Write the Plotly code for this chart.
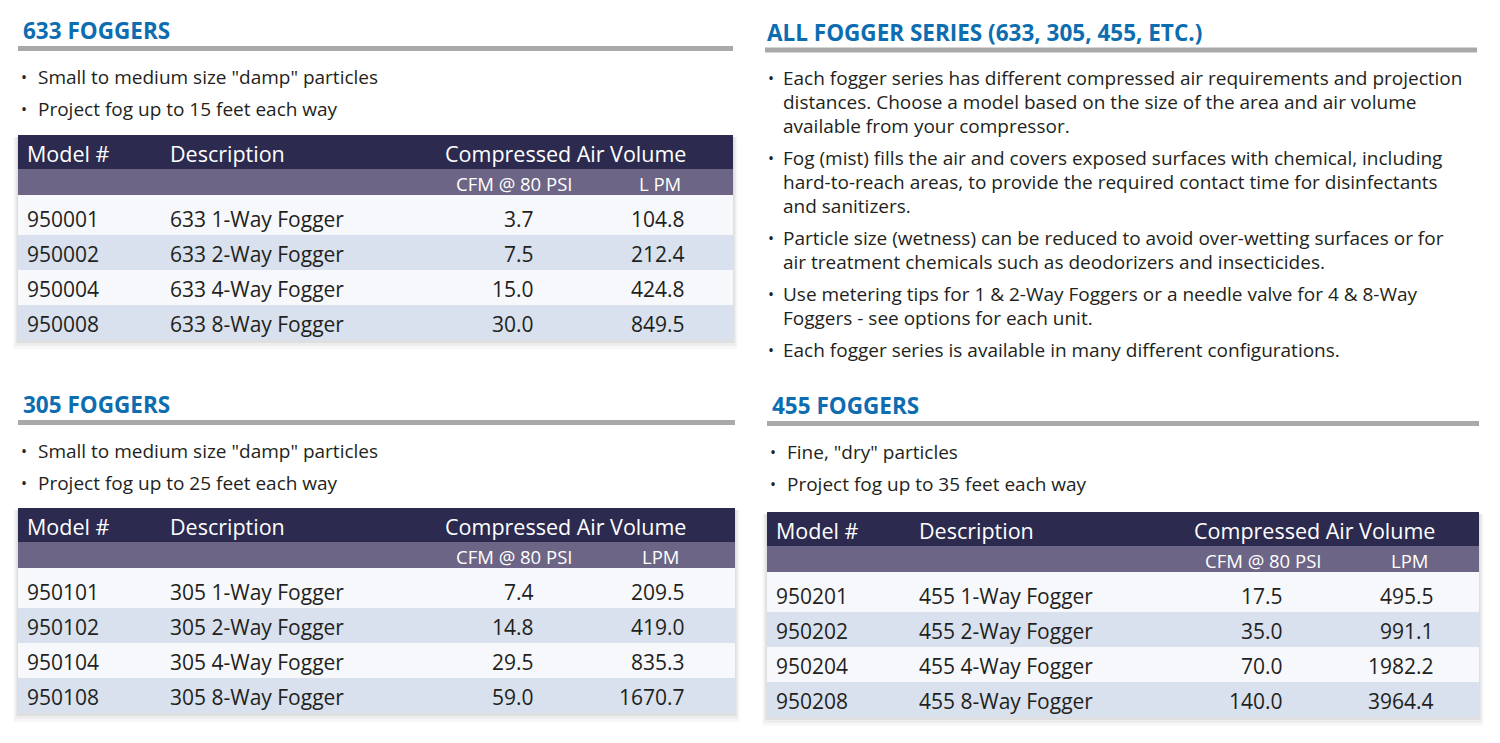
import plotly.graph_objects as go

# ---------------- data ----------------
titles = ["633 FOGGERS", "305 FOGGERS", "455 FOGGERS"]
bullets_633 = ['Small to medium size "damp" particles', "Project fog up to 15 feet each way"]
bullets_305 = ['Small to medium size "damp" particles', "Project fog up to 25 feet each way"]
bullets_455 = ['Fine, "dry" particles', "Project fog up to 35 feet each way"]

header_cols = ["Model #", "Description", "Compressed Air Volume"]
sub_cols_633 = ["CFM @ 80 PSI", "L PM"]
sub_cols = ["CFM @ 80 PSI", "LPM"]

models_633 = ["950001", "950002", "950004", "950008"]
desc_633 = ["633 1-Way Fogger", "633 2-Way Fogger", "633 4-Way Fogger", "633 8-Way Fogger"]
cfm_633 = [3.7, 7.5, 15.0, 30.0]
lpm_633 = [104.8, 212.4, 424.8, 849.5]

models_305 = ["950101", "950102", "950104", "950108"]
desc_305 = ["305 1-Way Fogger", "305 2-Way Fogger", "305 4-Way Fogger", "305 8-Way Fogger"]
cfm_305 = [7.4, 14.8, 29.5, 59.0]
lpm_305 = [209.5, 419.0, 835.3, 1670.7]

models_455 = ["950201", "950202", "950204", "950208"]
desc_455 = ["455 1-Way Fogger", "455 2-Way Fogger", "455 4-Way Fogger", "455 8-Way Fogger"]
cfm_455 = [17.5, 35.0, 70.0, 140.0]
lpm_455 = [495.5, 991.1, 1982.2, 3964.4]

all_title = "ALL FOGGER SERIES (633, 305, 455, ETC.)"
all_bullets = [
    ["Each fogger series has different compressed air requirements and projection",
     "distances. Choose a model based on the size of the area and air volume",
     "available from your compressor."],
    ["Fog (mist) fills the air and covers exposed surfaces with chemical, including",
     "hard-to-reach areas, to provide the required contact time for disinfectants",
     "and sanitizers."],
    ["Particle size (wetness) can be reduced to avoid over-wetting surfaces or for",
     "air treatment chemicals such as deodorizers and insecticides."],
    ["Use metering tips for 1 & 2-Way Foggers or a needle valve for 4 & 8-Way",
     "Foggers - see options for each unit."],
    ["Each fogger series is available in many different configurations."],
]

# ---------------- style ----------------
FONT = "Open Sans"
BLUE = "#0c6db0"
RULE = "#a9a9a9"
HEAD = "#2c2a4f"
SUB = "#6c6585"
ROW_A = "#f7f8fb"
ROW_B = "#d8e1ed"
TXT = "#231f20"

fig = go.Figure()
shapes = []
annots = []


def rect(x0, y0, x1, y1, color, opacity=1.0):
    shapes.append(dict(type="rect", xref="x", yref="y", x0=x0, y0=y0, x1=x1, y1=y1,
                       fillcolor=color, line=dict(width=0), opacity=opacity, layer="below"))


def text(x, y, s, size=18, color=TXT, anchor="left", bold=False):
    annots.append(dict(x=x, y=y, xref="x", yref="y", text=s, showarrow=False,
                       xanchor=anchor, yanchor="middle",
                       font=dict(family=FONT, size=size, color=color,
                                 weight="bold" if bold else "normal")))


def heading(x, y, s, rx0, rx1, ry):
    text(x, y, s, size=22.5, color=BLUE, bold=True)
    rect(rx0, ry - 2.5, rx1, ry + 2.5, RULE)


def section(x0, x1, title_y, head_top, title, bullets, subcols, models, descs, cfms, lpms):
    heading(x0 + 3, title_y, title, x0, x1, title_y + 18.5)
    for i, b in enumerate(bullets):
        yb = title_y + 47 + 32 * i
        text(x0 + 1, yb, "•", size=16)
        text(x0 + 18, yb, b, size=19)
    # shadow
    h_end = head_top + 34 + 26 + 40 + 35 * 3
    for k, op in [(9, 0.03), (6, 0.04), (3, 0.06)]:
        rect(x0 - k / 2, head_top + 2, x1 + k / 2, h_end + k, "#000000", op)
    # header
    rect(x0, head_top, x1, head_top + 34, HEAD)
    rect(x0, head_top + 34, x1, head_top + 60, SUB)
    hy = head_top + 18
    text(x0 + 7, hy, header_cols[0], size=21.5, color="white")
    text(x0 + 150, hy, header_cols[1], size=21.5, color="white")
    text(x0 + 425, hy, header_cols[2], size=21.5, color="white")
    sy = head_top + 48
    text(x0 + 496, sy, subcols[0], size=18.5, color="white", anchor="center")
    text(x0 + 642, sy, subcols[1], size=18.5, color="white", anchor="center")
    # rows
    top = head_top + 60
    for i in range(len(models)):
        h = 40 if i == 0 else 35
        rect(x0, top, x1, top + h, ROW_A if i % 2 == 0 else ROW_B)
        cy = top + h - 16.5
        text(x0 + 7, cy, models[i], size=21)
        text(x0 + 150, cy, descs[i], size=21)
        text(x0 + 518, cy, f"{cfms[i]:.1f}", size=21, anchor="right")
        text(x0 + 669, cy, f"{lpms[i]:.1f}", size=21, anchor="right")
        top += h


section(18, 733, 30, 135, titles[0], bullets_633, sub_cols_633,
        models_633, desc_633, cfm_633, lpm_633)
section(18, 735, 404, 508, titles[1], bullets_305, sub_cols,
        models_305, desc_305, cfm_305, lpm_305)
section(767, 1479, 405, 512, titles[2], bullets_455, sub_cols,
        models_455, desc_455, cfm_455, lpm_455)

# right-top general section
heading(765, 32, all_title, 765, 1477, 50)
ly = 78
for bl in all_bullets:
    for j, line in enumerate(bl):
        if j == 0:
            text(766, ly, "•", size=16)
        text(781, ly, line, size=19)
        ly += 24
    ly += 8

fig.add_trace(go.Scatter(x=[0], y=[0], mode="markers", marker=dict(opacity=0),
                         hoverinfo="skip", showlegend=False))
fig.update_layout(
    width=1500, height=743, margin=dict(l=0, r=0, t=0, b=0),
    paper_bgcolor="white", plot_bgcolor="white",
    xaxis=dict(range=[0, 1500], visible=False, fixedrange=True),
    yaxis=dict(range=[743, 0], visible=False, fixedrange=True),
    shapes=shapes, annotations=annots, showlegend=False,
)
fig.write_html("out.html", config={"displayModeBar": False},
               post_script="document.body.style.margin='0';document.body.style.overflow='hidden';")
